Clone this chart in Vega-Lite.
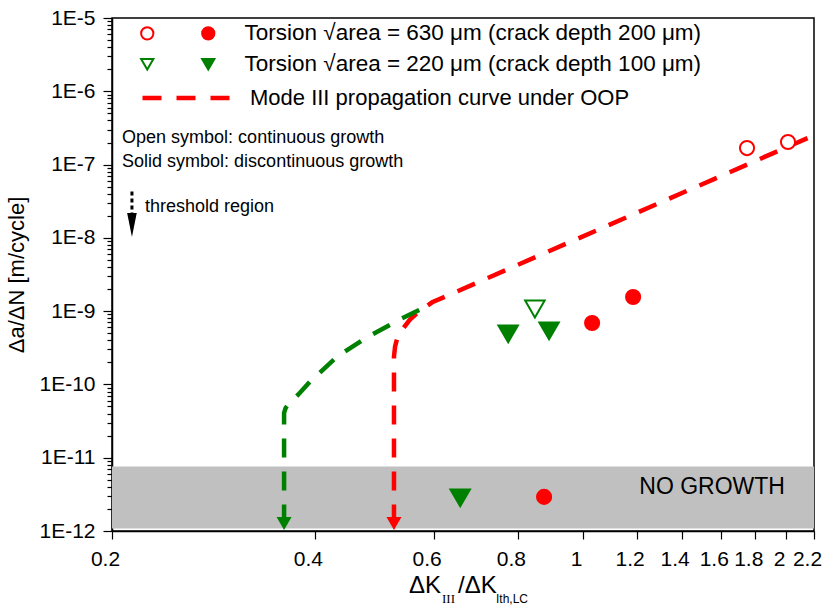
{
  "$schema": "https://vega.github.io/schema/vega-lite/v6.json",
  "width": 702,
  "height": 513,
  "autosize": {"type": "none"},
  "padding": {"left": 112, "top": 18, "right": 10, "bottom": 75},
  "background": "white",
  "config": {
    "view": {"stroke": "#000", "strokeWidth": 1.5},
    "font": "Liberation Sans",
    "axis": {
      "domainColor": "#000", "domainWidth": 1.5,
      "tickColor": "#000", "tickWidth": 1.2,
      "labelColor": "#000", "labelFont": "Liberation Sans", "labelFontSize": 21,
      "titleFont": "Liberation Sans", "titleColor": "#000", "titleFontWeight": "normal",
      "grid": false, "labelOverlap": false, "labelFlush": false
    }
  },
  "datasets": {
    "points": [
      {"x": 1.75, "y": 1.68e-7, "series": "630 open"},
      {"x": 2.013, "y": 2.03e-7, "series": "630 open"},
      {"x": 1.031, "y": 6.9e-10, "series": "630 solid"},
      {"x": 1.186, "y": 1.56e-9, "series": "630 solid"},
      {"x": 0.875, "y": 2.92e-12, "series": "630 solid"},
      {"x": 0.848, "y": 1.07e-9, "series": "220 open"},
      {"x": 0.774, "y": 4.9e-10, "series": "220 solid"},
      {"x": 0.89, "y": 5.37e-10, "series": "220 solid"},
      {"x": 0.657, "y": 2.83e-12, "series": "220 solid"}
    ],
    "curves": [
      {"curve": "Mode III propagation curve under OOP", "order": 1, "x": 0.524, "y": 1.27e-12},
      {"curve": "Mode III propagation curve under OOP", "order": 2, "x": 0.524, "y": 2.4e-10},
      {"curve": "Mode III propagation curve under OOP", "order": 3, "x": 0.526, "y": 3.3e-10},
      {"curve": "Mode III propagation curve under OOP", "order": 4, "x": 0.53, "y": 4.3e-10},
      {"curve": "Mode III propagation curve under OOP", "order": 5, "x": 0.539, "y": 5.6e-10},
      {"curve": "Mode III propagation curve under OOP", "order": 6, "x": 0.553, "y": 7.6e-10},
      {"curve": "Mode III propagation curve under OOP", "order": 7, "x": 0.57, "y": 9.8e-10},
      {"curve": "Mode III propagation curve under OOP", "order": 8, "x": 0.597, "y": 1.32e-9},
      {"curve": "Mode III propagation curve under OOP", "order": 9, "x": 2.19, "y": 2.46e-7},
      {"curve": "Mode III curve (220 μm)", "order": 1, "x": 0.36, "y": 1.27e-12},
      {"curve": "Mode III curve (220 μm)", "order": 2, "x": 0.36, "y": 4.1e-11},
      {"curve": "Mode III curve (220 μm)", "order": 3, "x": 0.362, "y": 4.8e-11},
      {"curve": "Mode III curve (220 μm)", "order": 4, "x": 0.367, "y": 5.6e-11},
      {"curve": "Mode III curve (220 μm)", "order": 5, "x": 0.378, "y": 7.3e-11},
      {"curve": "Mode III curve (220 μm)", "order": 6, "x": 0.393, "y": 1.08e-10},
      {"curve": "Mode III curve (220 μm)", "order": 7, "x": 0.431, "y": 2.37e-10},
      {"curve": "Mode III curve (220 μm)", "order": 8, "x": 0.476, "y": 4.31e-10},
      {"curve": "Mode III curve (220 μm)", "order": 9, "x": 0.533, "y": 7.59e-10},
      {"curve": "Mode III curve (220 μm)", "order": 10, "x": 0.595, "y": 1.25e-9}
    ]
  },
  "layer": [
    {
      "layer": [
        {
          "data": {"values": [{}]},
          "mark": {"type": "rect", "color": "#c0c0c0"},
          "encoding": {
            "x": {"datum": 0.2, "scale": {"type": "log", "domain": [0.2, 2.2], "nice": false}, "axis": null},
            "x2": {"datum": 2.2},
            "y": {"datum": 1.08e-12, "scale": {"type": "log", "domain": [1e-12, 1e-5], "nice": false}, "axis": null},
            "y2": {"datum": 7.6e-12}
          }
        },
        {
          "data": {"name": "curves"},
          "transform": [{"filter": "datum.curve == 'Mode III propagation curve under OOP'"}],
          "mark": {"type": "line", "strokeWidth": 4.5, "strokeDash": [19, 14]},
          "encoding": {
            "x": {"field": "x", "type": "quantitative", "axis": null},
            "y": {"field": "y", "type": "quantitative", "axis": null},
            "order": {"field": "order", "type": "quantitative"},
            "color": {
              "field": "curve", "type": "nominal",
              "scale": {"domain": ["Mode III propagation curve under OOP", "Mode III curve (220 μm)"], "range": ["#ff0000", "#008000"]},
              "legend": {
                "values": ["Mode III propagation curve under OOP"],
                "orient": "none", "legendX": 28, "legendY": 34, "title": null, "padding": 0,
                "symbolType": "stroke", "symbolSize": 7569, "symbolStrokeWidth": 4.5, "symbolDash": [19, 15],
                "labelOffset": 18, "labelFontSize": 22, "labelFont": "Liberation Sans", "labelColor": "#000", "labelLimit": 1000
              }
            }
          }
        },
        {
          "data": {"name": "curves"},
          "transform": [{"filter": "datum.curve == 'Mode III curve (220 μm)'"}],
          "mark": {"type": "line", "strokeWidth": 4.5, "strokeDash": [19, 14]},
          "encoding": {
            "x": {"field": "x", "type": "quantitative", "axis": null},
            "y": {"field": "y", "type": "quantitative", "axis": null},
            "order": {"field": "order", "type": "quantitative"},
            "color": {"field": "curve", "type": "nominal"}
          }
        },
        {
          "data": {"values": [{}]},
          "mark": {"type": "point", "shape": "triangle-down", "filled": true, "size": 225, "opacity": 1, "color": "#008000"},
          "encoding": {
            "x": {"datum": 0.36, "axis": null},
            "y": {"datum": 1.27e-12, "axis": null}
          }
        },
        {
          "data": {"values": [{}]},
          "mark": {"type": "point", "shape": "triangle-down", "filled": true, "size": 225, "opacity": 1, "color": "#ff0000"},
          "encoding": {
            "x": {"datum": 0.524, "axis": null},
            "y": {"datum": 1.27e-12, "axis": null}
          }
        },
        {
          "data": {"values": [{}]},
          "mark": {"type": "rule", "color": "#000", "strokeWidth": 3, "strokeDash": [4, 3]},
          "encoding": {
            "x": {"datum": 0.2141, "axis": null},
            "y": {"datum": 4.3e-8, "axis": null},
            "y2": {"datum": 1.93e-8}
          }
        },
        {
          "data": {"values": [{}]},
          "mark": {"type": "point", "shape": "M-0.4,-1L0.4,-1L0,1Z", "filled": true, "size": 576, "opacity": 1, "color": "#000"},
          "encoding": {
            "x": {"datum": 0.2141, "axis": null},
            "y": {"datum": 1.5e-8, "axis": null}
          }
        },
        {
          "data": {"name": "points"},
          "transform": [{"filter": "indexof(datum.series, '630') >= 0"}],
          "mark": {"type": "point", "size": 200, "strokeWidth": 2, "opacity": 1},
          "encoding": {
            "x": {"field": "x", "type": "quantitative", "axis": null},
            "y": {"field": "y", "type": "quantitative", "axis": null},
            "fill": {
              "field": "series", "type": "nominal",
              "scale": {"domain": ["630 open", "630 solid", "220 open", "220 solid"], "range": ["white", "#ff0000", "white", "#008000"]},
              "legend": {
                "orient": "none", "legendX": 24, "legendY": 4, "title": null, "padding": 0, "direction": "horizontal",
                "columns": 2, "columnPadding": 13, "rowPadding": 8,
                "labelOffset": 25, "labelFontSize": 22.5, "labelFont": "Liberation Sans", "labelColor": "#000", "labelLimit": 1000,
                "symbolSize": 150, "symbolStrokeWidth": 2,
                "labelExpr": "datum.label == '630 solid' ? 'Torsion √area = 630 μm (crack depth 200 μm)' : datum.label == '220 solid' ? 'Torsion √area = 220 μm (crack depth 100 μm)' : ''"
              }
            },
            "stroke": {
              "field": "series", "type": "nominal",
              "scale": {"domain": ["630 open", "630 solid", "220 open", "220 solid"], "range": ["#ff0000", "#ff0000", "#008000", "#008000"]},
              "legend": {
                "orient": "none", "legendX": 24, "legendY": 4, "title": null, "padding": 0, "direction": "horizontal",
                "columns": 2, "columnPadding": 13, "rowPadding": 8,
                "labelOffset": 25, "labelFontSize": 22.5, "labelFont": "Liberation Sans", "labelColor": "#000", "labelLimit": 1000,
                "symbolSize": 150, "symbolStrokeWidth": 2,
                "labelExpr": "datum.label == '630 solid' ? 'Torsion √area = 630 μm (crack depth 200 μm)' : datum.label == '220 solid' ? 'Torsion √area = 220 μm (crack depth 100 μm)' : ''"
              }
            },
            "shape": {
              "field": "series", "type": "nominal",
              "scale": {"domain": ["630 open", "630 solid", "220 open", "220 solid"], "range": ["circle", "circle", "triangle-down", "triangle-down"]},
              "legend": {
                "orient": "none", "legendX": 24, "legendY": 4, "title": null, "padding": 0, "direction": "horizontal",
                "columns": 2, "columnPadding": 13, "rowPadding": 8,
                "labelOffset": 25, "labelFontSize": 22.5, "labelFont": "Liberation Sans", "labelColor": "#000", "labelLimit": 1000,
                "symbolSize": 150, "symbolStrokeWidth": 2,
                "labelExpr": "datum.label == '630 solid' ? 'Torsion √area = 630 μm (crack depth 200 μm)' : datum.label == '220 solid' ? 'Torsion √area = 220 μm (crack depth 100 μm)' : ''"
              }
            }
          }
        },
        {
          "data": {"name": "points"},
          "transform": [{"filter": "indexof(datum.series, '220') >= 0"}],
          "mark": {"type": "point", "size": 380, "strokeWidth": 2, "opacity": 1},
          "encoding": {
            "x": {"field": "x", "type": "quantitative", "axis": null},
            "y": {"field": "y", "type": "quantitative", "axis": null},
            "fill": {"field": "series", "type": "nominal"},
            "stroke": {"field": "series", "type": "nominal"},
            "shape": {"field": "series", "type": "nominal"}
          }
        },
        {
          "data": {"values": [{}]},
          "mark": {"type": "text", "align": "left", "baseline": "middle", "fontSize": 18, "color": "#000"},
          "encoding": {
            "x": {"datum": 0.207, "axis": null},
            "y": {"datum": 2.31e-7, "axis": null},
            "text": {"value": "Open symbol: continuous growth"}
          }
        },
        {
          "data": {"values": [{}]},
          "mark": {"type": "text", "align": "left", "baseline": "middle", "fontSize": 18, "color": "#000"},
          "encoding": {
            "x": {"datum": 0.207, "axis": null},
            "y": {"datum": 1.08e-7, "axis": null},
            "text": {"value": "Solid symbol: discontinuous growth"}
          }
        },
        {
          "data": {"values": [{}]},
          "mark": {"type": "text", "align": "left", "baseline": "middle", "fontSize": 18, "color": "#000"},
          "encoding": {
            "x": {"datum": 0.2238, "axis": null},
            "y": {"datum": 2.64e-8, "axis": null},
            "text": {"value": "threshold region"}
          }
        },
        {
          "data": {"values": [{}]},
          "mark": {"type": "text", "align": "right", "baseline": "middle", "fontSize": 23, "color": "#000"},
          "encoding": {
            "x": {"datum": 1.992, "axis": null},
            "y": {"datum": 4.0e-12, "axis": null},
            "text": {"value": "NO GROWTH"}
          }
        },
        {
          "data": {"values": [{}]},
          "mark": {"type": "text", "align": "right", "baseline": "alphabetic", "fontSize": 24, "color": "#000", "dx": -22, "dy": 62},
          "encoding": {
            "x": {"datum": 0.6633, "axis": null},
            "y": {"datum": 1e-12, "axis": null},
            "text": {"value": "ΔK"}
          }
        },
        {
          "data": {"values": [{}]},
          "mark": {"type": "text", "align": "left", "baseline": "alphabetic", "font": "Liberation Serif", "fontSize": 13, "color": "#000", "dx": -21, "dy": 72},
          "encoding": {
            "x": {"datum": 0.6633, "axis": null},
            "y": {"datum": 1e-12, "axis": null},
            "text": {"value": "III"}
          }
        },
        {
          "data": {"values": [{}]},
          "mark": {"type": "text", "align": "left", "baseline": "alphabetic", "fontSize": 24, "color": "#000", "dx": -5, "dy": 62},
          "encoding": {
            "x": {"datum": 0.6633, "axis": null},
            "y": {"datum": 1e-12, "axis": null},
            "text": {"value": "/ΔK"}
          }
        },
        {
          "data": {"values": [{}]},
          "mark": {"type": "text", "align": "left", "baseline": "alphabetic", "fontSize": 12, "color": "#000", "dx": 33, "dy": 72},
          "encoding": {
            "x": {"datum": 0.6633, "axis": null},
            "y": {"datum": 1e-12, "axis": null},
            "text": {"value": "Ith,LC"}
          }
        }
      ]
    },
    {
      "data": {"values": [{}]},
      "mark": {"type": "point", "opacity": 0, "size": 0},
      "encoding": {
        "x": {
          "datum": 1, "scale": {"type": "log", "domain": [0.2, 2.2], "nice": false},
          "axis": {
            "orient": "bottom", "title": null,
            "values": [0.2, 0.4, 0.6, 0.8, 1, 1.2, 1.4, 1.6, 1.8, 2, 2.2],
            "labelExpr": "'' + datum.value",
            "labelOffset": -7,
            "tickSize": 8, "labelPadding": 9
          }
        },
        "y": {
          "datum": 1e-8, "scale": {"type": "log", "domain": [1e-12, 1e-5], "nice": false},
          "axis": {
            "orient": "left", "title": "Δa/ΔN [m/cycle]", "titleFontSize": 22, "titlePadding": 10,
            "values": [1e-12, 2e-12, 3e-12, 4e-12, 5e-12, 6e-12, 7e-12, 8e-12, 9e-12,
                       1e-11, 2e-11, 3e-11, 4e-11, 5e-11, 6e-11, 7e-11, 8e-11, 9e-11,
                       1e-10, 2e-10, 3e-10, 4e-10, 5e-10, 6e-10, 7e-10, 8e-10, 9e-10,
                       1e-9, 2e-9, 3e-9, 4e-9, 5e-9, 6e-9, 7e-9, 8e-9, 9e-9,
                       1e-8, 2e-8, 3e-8, 4e-8, 5e-8, 6e-8, 7e-8, 8e-8, 9e-8,
                       1e-7, 2e-7, 3e-7, 4e-7, 5e-7, 6e-7, 7e-7, 8e-7, 9e-7,
                       1e-6, 2e-6, 3e-6, 4e-6, 5e-6, 6e-6, 7e-6, 8e-6, 9e-6, 1e-5],
            "labelExpr": "abs(log(datum.value)/LN10 - round(log(datum.value)/LN10)) < 0.001 ? '1E' + round(log(datum.value)/LN10) : ''",
            "tickSize": {"condition": {"test": "abs(log(datum.value)/LN10 - round(log(datum.value)/LN10)) < 0.001", "value": 9}, "value": 5},
            "labelPadding": 8
          }
        }
      }
    }
  ],
  "resolve": {"scale": {"x": "independent", "y": "independent"}}
}
